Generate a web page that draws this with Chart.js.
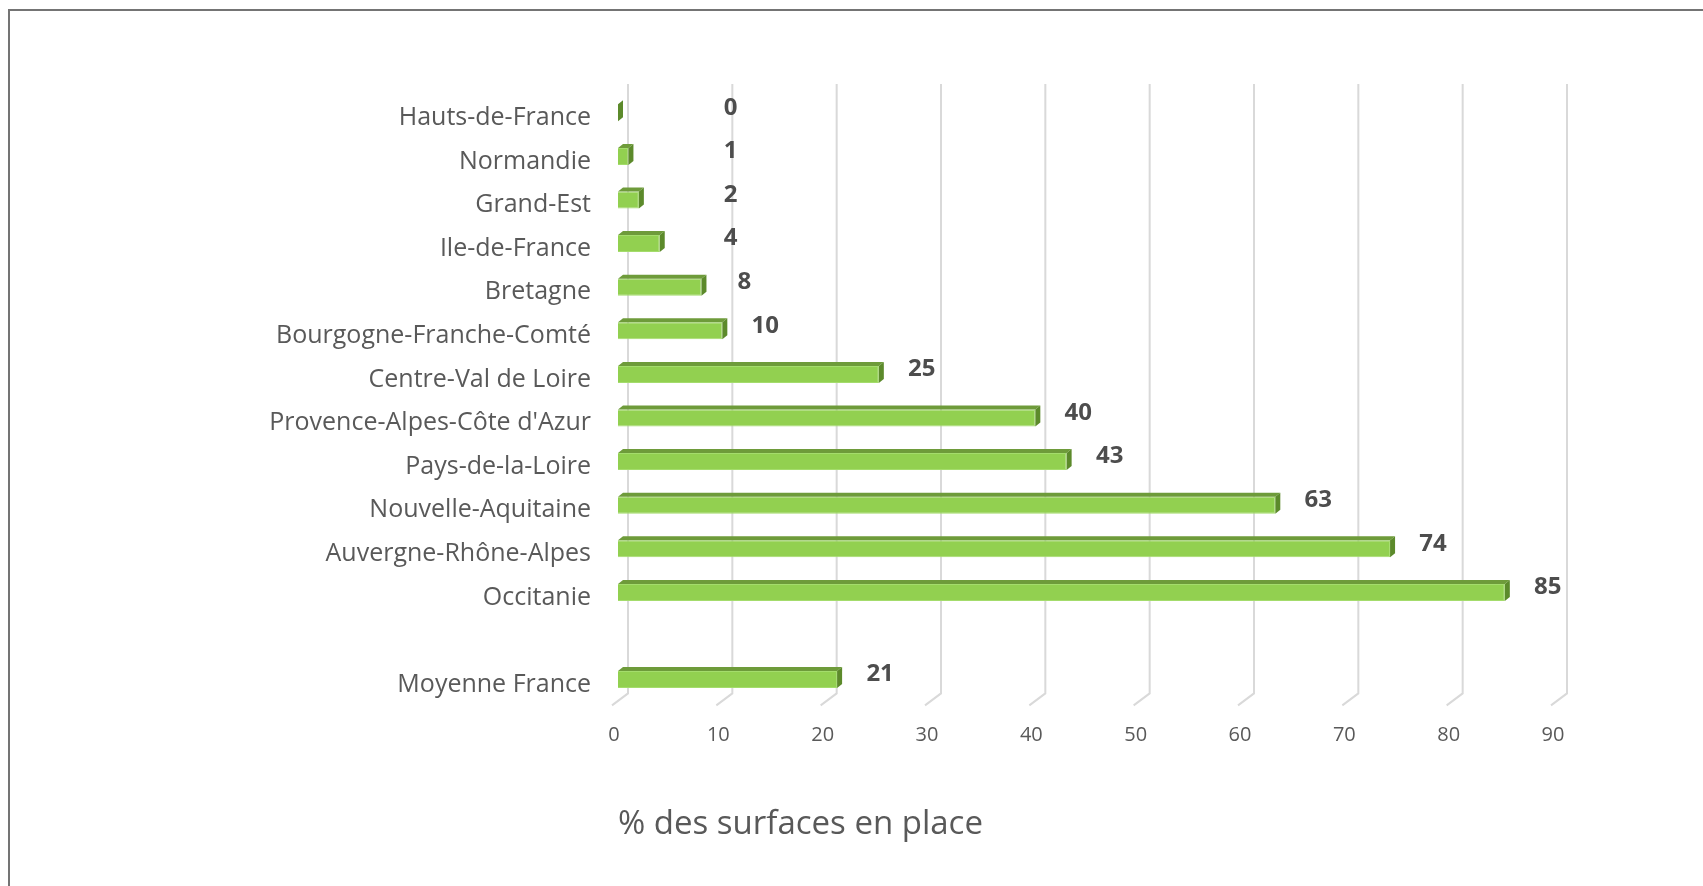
<!DOCTYPE html>
<html lang="fr">
<head>
<meta charset="utf-8">
<title>% des surfaces en place</title>
<script src="https://cdn.jsdelivr.net/npm/chart.js@4.4.1/dist/chart.umd.min.js"></script>
<style>
  html, body { margin: 0; padding: 0; background: #fff; overflow: hidden; }
  body { width: 1703px; height: 886px; position: relative; }
  .frame {
    position: absolute; left: 8px; top: 9px; width: 1800px; height: 1000px;
    border-top: 2px solid #747474; border-left: 2px solid #747474;
  }
  .wrap { position: absolute; left: 0; top: 0; width: 1703px; height: 886px; }
</style>
</head>
<body>
<div class="frame"></div>
<div class="wrap"><canvas id="chart"></canvas></div>
<script>
  const regions = [
    'Hauts-de-France', 'Normandie', 'Grand-Est', 'Ile-de-France', 'Bretagne',
    'Bourgogne-Franche-Comté', 'Centre-Val de Loire', "Provence-Alpes-Côte d'Azur",
    'Pays-de-la-Loire', 'Nouvelle-Aquitaine', 'Auvergne-Rhône-Alpes', 'Occitanie',
    '', 'Moyenne France'
  ];
  const surfaces = [0, 1, 2, 4, 8, 10, 25, 40, 43, 63, 74, 85, null, 21];
  const xMin = 0, xMax = 90, xStep = 10;
  const axisTitle = '% des surfaces en place';

  const FRONT = '#92D050';
  const TOP = '#6E9B3A';
  const SIDE = '#5C8A2B';
  const TEXT = '#595959';

  // back wall grid + 3D faces + value labels
  const bars3d = {
    id: 'bars3d',
    beforeDatasetsDraw(chart) {
      const { ctx, chartArea, scales: { x } } = chart;
      ctx.save();
      ctx.strokeStyle = '#d9d9d9';
      ctx.lineWidth = 2;
      x.ticks.forEach(t => {
        const px = x.getPixelForValue(t.value) + 10;
        ctx.beginPath();
        ctx.moveTo(px, chartArea.top - 7);
        ctx.lineTo(px, chartArea.bottom - 8);
        ctx.lineTo(px - 16, chartArea.bottom + 4);
        ctx.stroke();
      });
      ctx.restore();
    },
    afterDatasetsDraw(chart) {
      const { ctx, scales: { x } } = chart;
      const meta = chart.getDatasetMeta(0);
      const d = 5, dy = 4;
      ctx.save();
      meta.data.forEach((bar, i) => {
        if (surfaces[i] == null) return;
        const top = bar.y - bar.height / 2;
        const bottom = bar.y + bar.height / 2;
        const left = bar.base, right = bar.x;
        // top face
        ctx.fillStyle = TOP;
        ctx.beginPath();
        ctx.moveTo(left, top);
        ctx.lineTo(left + d, top - dy);
        ctx.lineTo(right + d, top - dy);
        ctx.lineTo(right, top);
        ctx.closePath();
        ctx.fill();
        // side face
        ctx.fillStyle = SIDE;
        ctx.beginPath();
        ctx.moveTo(right, top);
        ctx.lineTo(right + d, top - dy);
        ctx.lineTo(right + d, bottom - dy);
        ctx.lineTo(right, bottom);
        ctx.closePath();
        ctx.fill();

        // value label
        const lx = Math.max(right + d + 38, x.getPixelForValue(10.8));
        ctx.fillStyle = '#4d4d4d';
        ctx.font = 'bold 24px "Open Sans"';
        ctx.textAlign = 'center';
        ctx.textBaseline = 'middle';
        ctx.fillText(String(surfaces[i]), lx, bar.y - 5);
      });
      ctx.restore();
    }
  };

  new Chart(document.getElementById('chart'), {
    type: 'bar',
    data: {
      labels: regions,
      datasets: [{
        data: surfaces,
        backgroundColor: FRONT,
        borderColor: '#a4dc6c',
        borderWidth: 1,
        borderSkipped: 'start',
        categoryPercentage: 1,
        barPercentage: 0.39
      }]
    },
    options: {
      indexAxis: 'y',
      responsive: true,
      maintainAspectRatio: false,
      animation: false,
      layout: { padding: { left: 0, right: 146, top: 91, bottom: 38 } },
      plugins: {
        legend: { display: false },
        tooltip: { enabled: false }
      },
      scales: {
        x: {
          min: xMin,
          max: xMax,
          border: { display: false },
          grid: { display: false, drawTicks: false },
          ticks: {
            stepSize: xStep,
            color: TEXT,
            padding: 22,
            labelOffset: -4,
            font: { family: 'Open Sans', size: 20 }
          },
          title: {
            display: true,
            text: axisTitle,
            align: 'start',
            color: TEXT,
            font: { family: 'Open Sans', size: 33 },
            padding: { top: 35, bottom: 4 }
          }
        },
        y: {
          border: { display: false },
          grid: { display: false, drawTicks: false },
          afterFit(scale) { scale.width = 618; },
          ticks: {
            color: TEXT,
            padding: 27,
            labelOffset: 5,
            autoSkip: false,
            font: { family: 'Open Sans', size: 25 }
          }
        }
      }
    },
    plugins: [bars3d]
  });
</script>
</body>
</html>
